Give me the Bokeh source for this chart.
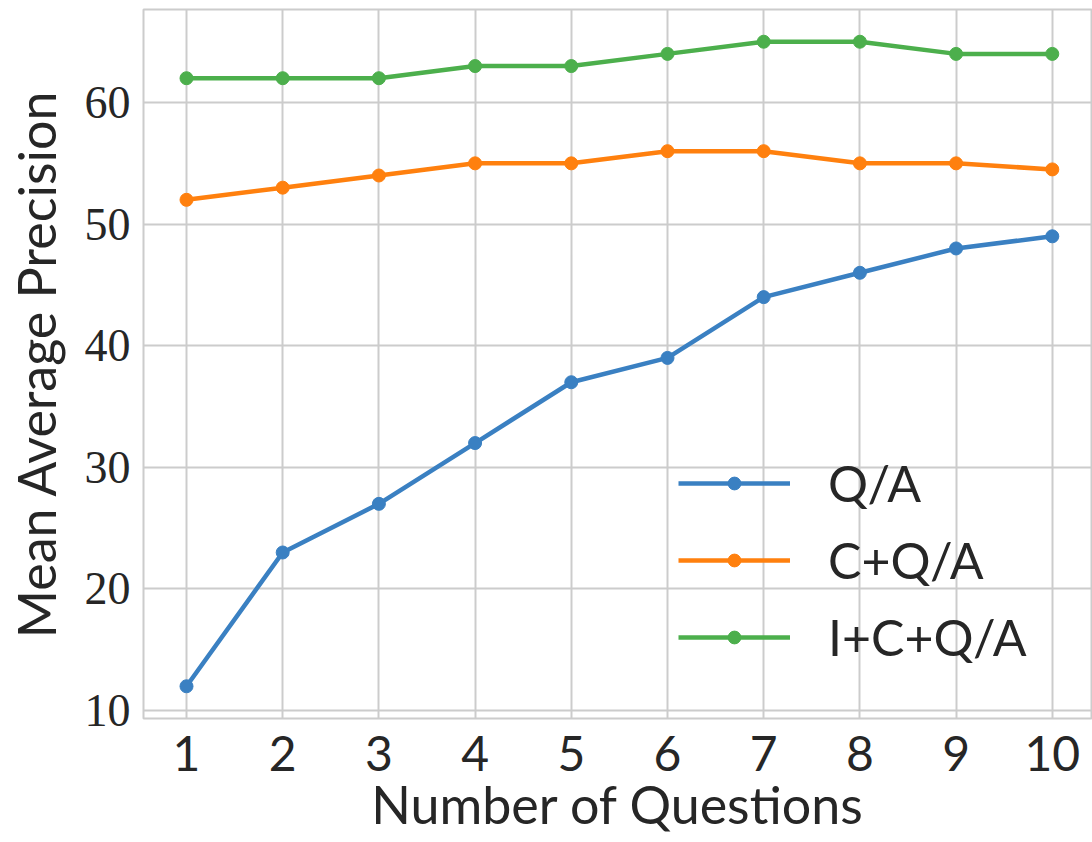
from bokeh.plotting import figure
from bokeh.embed import file_html
from bokeh.resources import INLINE
from bokeh.models import FixedTicker, Legend

questions = [1, 2, 3, 4, 5, 6, 7, 8, 9, 10]
qa = [12, 23, 27, 32, 37, 39, 44, 46, 48, 49]
cqa = [52, 53, 54, 55, 55, 56, 56, 55, 55, 54.5]
icqa = [62, 62, 62, 63, 63, 64, 65, 65, 64, 64]
series_names = ["Q/A", "C+Q/A", "I+C+Q/A"]
series_colors = ["#3a80c2", "#ff800e", "#4caf4c"]
y_ticks = [10, 20, 30, 40, 50, 60]

p = figure(width=1092, height=842, output_backend="svg", toolbar_location=None,
           x_range=(0.553, 10.418), y_range=(9.35, 67.65),
           min_border_left=143, min_border_top=9, min_border_right=0, min_border_bottom=124)
p.background_fill_color = "white"
p.border_fill_color = "white"
p.outline_line_color = "#cccccc"
p.outline_line_width = 2

items = []
for name, ys, col in zip(series_names, [qa, cqa, icqa], series_colors):
    r1 = p.line(questions, ys, line_color=col, line_width=4.5)
    r2 = p.scatter(questions, ys, marker="circle", size=13, fill_color=col, line_color=col)
    items.append((name, [r1, r2]))

p.xaxis.ticker = FixedTicker(ticks=questions)
p.yaxis.ticker = FixedTicker(ticks=y_ticks)
for ax in (p.xaxis, p.yaxis):
    ax.axis_line_color = None
    ax.major_tick_line_color = None
    ax.minor_tick_line_color = None
    ax.major_tick_in = 0
    ax.major_tick_out = 0
    ax.minor_tick_in = 0
    ax.minor_tick_out = 0
    ax.major_label_text_color = "#262626"
    ax.axis_label_text_color = "#262626"
    ax.axis_label_text_font = "Lato"
    ax.axis_label_text_font_style = "normal"
    ax.axis_label_text_font_size = "52px"

p.xaxis.major_label_text_font = "Lato"
p.xaxis.major_label_text_font_size = "48px"
p.xaxis.major_label_standoff = 17
p.xaxis.axis_label = "Number of Questions"
p.xaxis.axis_label_standoff = -1

p.yaxis.major_label_text_font = "Liberation Serif"
p.yaxis.major_label_text_font_size = "46px"
p.yaxis.major_label_standoff = 13
p.yaxis.axis_label = "Mean Average Precision"
p.yaxis.axis_label_standoff = 15

p.xgrid.grid_line_color = "#cccccc"
p.ygrid.grid_line_color = "#cccccc"
p.xgrid.grid_line_width = 2
p.ygrid.grid_line_width = 2

legend = Legend(items=items, location=(535, 51))
legend.background_fill_alpha = 0
legend.border_line_color = None
legend.padding = 0
legend.margin = 0
legend.glyph_width = 112
legend.glyph_height = 32
legend.label_height = 50
legend.spacing = 17
legend.label_standoff = 38
legend.label_text_font = "Lato"
legend.label_text_font_size = "50px"
legend.label_text_color = "#262626"
p.add_layout(legend, "center")

open("out.html", "w").write(file_html(p, INLINE))
